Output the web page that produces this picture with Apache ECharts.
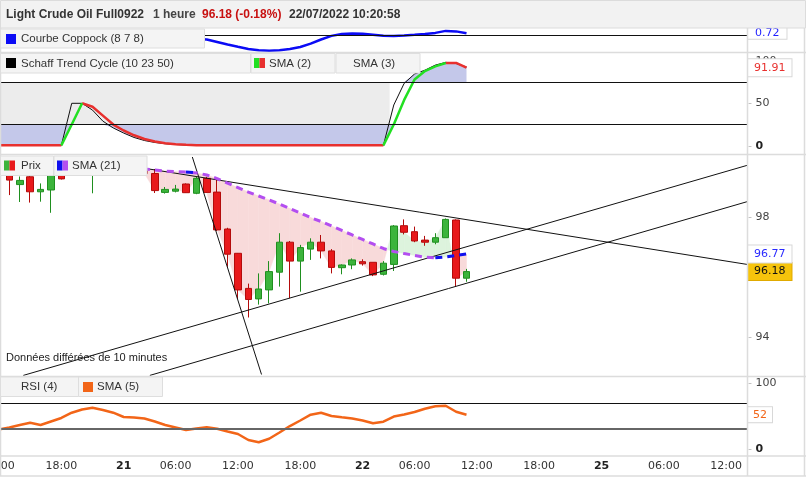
<!DOCTYPE html>
<html>
<head>
<meta charset="utf-8">
<title>Light Crude Oil Full0922</title>
<script src="https://cdn.jsdelivr.net/npm/echarts@6.0.0/dist/echarts.min.js"></script>
<style>
html,body{margin:0;padding:0;background:#fff;}
#chart{width:806px;height:477px;}
</style>
</head>
<body>
<div id="chart"></div>
<script>
// ---------------- data (hourly bars, index -1 .. 44) ----------------
const open  = [99.5, 99.55,99.08,99.34,98.84,98.9,99.6,99.5,99.7,99.55,99.8,99.6,99.7,99.5,99.55,99.45,98.82,98.86,99.1,98.79,99.29,98.83,97.6,96.79,95.62,95.27,95.57,96.16,97.16,96.53,96.93,97.16,96.87,96.31,96.4,96.51,96.49,96.09,96.42,97.71,97.51,97.23,97.16,97.31,97.9,95.96];
const close = [99.6, 99.23,99.22,98.84,98.92,99.45,99.27,99.6,99.85,99.8,99.6,99.7,99.5,99.55,99.45,98.88,98.92,98.93,98.81,99.29,98.82,97.57,96.76,95.57,95.25,95.6,96.18,97.16,96.53,96.98,97.16,96.87,96.32,96.4,96.57,96.44,96.07,96.46,97.7,97.49,97.2,97.16,97.31,97.92,95.96,96.18];
const low   = [99.42,98.73,98.5,98.48,98.51,98.14,99.25,99.4,99.45,98.79,99.45,99.45,99.4,99.4,99.4,98.8,98.78,98.82,98.8,98.76,98.8,97.53,96.34,95.27,94.65,95.08,95.12,95.68,95.29,95.51,96.57,96.62,96.12,96.09,96.26,96.38,96.03,96.05,96.2,97.42,97.16,97.04,97.09,97.31,95.68,95.84];
const high  = [99.8, 99.7,99.35,99.5,99.12,99.6,99.7,99.8,99.95,99.9,99.9,99.85,99.8,99.7,99.65,99.6,99.0,99.07,99.12,99.34,99.34,99.27,97.64,96.8,95.78,96.12,96.53,97.46,97.2,97.07,97.29,97.4,96.93,96.42,96.62,96.59,96.49,96.53,97.73,97.92,97.68,97.37,97.46,97.95,97.92,96.27];
const sma21 = [99.48,99.5,99.52,99.53,99.55,99.55,99.56,99.57,99.58,99.6,99.61,99.62,99.62,99.61,99.6,99.57,99.53,99.51,99.5,99.47,99.4,99.28,99.13,98.98,98.83,98.7,98.57,98.43,98.28,98.13,97.98,97.85,97.7,97.55,97.4,97.25,97.1,96.95,96.85,96.78,96.72,96.66,96.64,96.67,96.72,96.77];
const coppock = [0.4,0.5,0.55,0.5,0.4,0.3,0.2,0.15,0.05,-0.05,-0.1,-0.2,-0.3,-0.45,-0.6,-0.75,-0.9,-1.05,-1.2,-1.3,-1.48,-2.38,-3.29,-4.1,-4.9,-5.38,-5.56,-5.38,-4.95,-4.19,-3.0,-1.5,-0.2,0.5,0.69,0.58,0.22,-0.14,-0.22,-0.04,0.22,0.5,0.87,1.59,1.41,0.72];
const stc   = [0.5,0.5,0.5,0.5,0.5,0.5,0.5,50,50,42,29,21,15,9.8,6.2,3.9,2.4,1.5,0.9,0.5,0.5,0.5,0.5,0.5,0.5,0.5,0.5,0.5,0.5,0.5,0.5,0.5,0.5,0.5,0.5,0.5,0.5,0.5,48,73.5,84.5,89,95,98.2,96.8,92.7];
const stcSma2 = [0.5,0.5,0.5,0.5,0.5,0.5,0.5,25,50,46,35.5,25,18,12.4,8,5,3.1,1.9,1.2,0.7,0.5,0.5,0.5,0.5,0.5,0.5,0.5,0.5,0.5,0.5,0.5,0.5,0.5,0.5,0.5,0.5,0.5,0.5,25,54,78,88,93.5,97.4,97.5,91.9];
const rsiSma5 = [29.5,32.6,36.4,39.8,36.4,41.7,47,55,59.8,62.4,59.1,55,48.5,47.7,46.2,41.7,36.4,32.6,28.8,31.1,32.9,30.8,26.5,22.7,13.6,10.2,15.5,25,34.8,43.2,52,55,50,48,46.2,43.2,38.9,41.4,49.2,52.3,56,61,64.7,65.6,56.5,52];

// colour segments (bar index ranges)
const stcUpRanges   = [[5,7],[36,42]];
const stcDownRanges = [[-1,5],[7,36],[42,44]];
const smaUpRanges   = [[17,18],[41,44]];
const smaDownRanges = [[-1,17],[18,41]];
const fillStart = 8;   // first bar of the price / SMA cloud

// trend lines drawn on the price panel: [barIndex, price]
const trendLines = [
  [[8, 99.9],   [71, 96.42]],
  [[17.61, 100.0], [24.27, 92.75]],
  [[1.34, 92.72],  [71, 99.72]],
  [[13.52, 92.72], [71, 98.51]]
];

// last values
const lastCoppock = 0.72, lastStc = 91.91, lastSma21 = 96.77, lastPrice = 96.18, lastRsi = 52;

// axis ticks
const xTickIdx  = [-1,5,11,16,22,28,34,39,45,51,57,63,69];
const xTickText = ['12:00','18:00','21','06:00','12:00','18:00','22','06:00','12:00','18:00','25','06:00','12:00'];
const xTickBold = [0,0,1,0,0,0,1,0,0,0,1,0,0];
const priceTicks = [94,96,98];
const stcTicks = [0,50,100];
const rsiTicks = [0,50,100];
const stcLevels = [25,75];
const rsiLevels = [30,70];

// ---------------- build ----------------
const bars = open.map((_, i) => i - 1);
const F = "'DejaVu Sans', Verdana, sans-serif";
const FL = "'Liberation Sans', Arial, sans-serif";

const pairs = v => bars.map((b, i) => [b, v[i]]);
const seg = (v, ranges) => bars.map((b, i) => [b, ranges.some(r => b >= r[0] && b <= r[1]) ? v[i] : null]);

const candles = bars.map((b, i) => [b, open[i], close[i], low[i], high[i]]);
const stcLow  = bars.map((b, i) => [b, Math.min(stc[i], 25)]);
const stcHigh = bars.map((b, i) => [b, Math.max(stc[i], 75)]);
const cloud = [];
for (let i = 0; i < bars.length - 1; i++) {
  if (bars[i] < fillStart) continue;
  cloud.push([bars[i], close[i], sma21[i], bars[i + 1], close[i + 1], sma21[i + 1]]);
}

const gridBase = {left: -1, right: 59, containLabel: false, outerBoundsMode: 'none'};
const grids = [
  Object.assign({top: 29, height: 23}, gridBase),
  Object.assign({top: 53, height: 101}, gridBase),
  Object.assign({top: 156, height: 220}, gridBase),
  Object.assign({top: 377, height: 78}, gridBase)
];

function xAx(gi, labels) {
  return {
    type: 'value', gridIndex: gi, min: -1, max: 71,
    axisLine: {show: false}, axisTick: {show: false}, splitLine: {show: false},
    axisLabel: labels ? {
      show: true, customValues: xTickIdx, margin: 6, color: '#333',
      fontFamily: F, fontSize: 11, hideOverlap: false,
      formatter: v => { const i = xTickIdx.indexOf(v); if (i < 0) return ''; return xTickBold[i] ? '{b|' + xTickText[i] + '}' : xTickText[i]; },
      rich: {b: {fontWeight: 'bold', fontFamily: F, fontSize: 11, color: '#222'}}
    } : {show: false}
  };
}
function yAx(gi, min, max, ticks) {
  return {
    type: 'value', gridIndex: gi, min: min, max: max, position: 'right',
    axisLine: {show: false}, splitLine: {show: false}, axisTick: {show: false},
    axisLabel: {
      show: !!ticks, customValues: ticks || [], margin: 1, color: '#444',
      fontFamily: F, fontSize: 11,
      formatter: v => '{t|-} ' + (v === 0 ? '{b|0}' : String(v)),
      rich: {
        t: {color: '#bbb', fontFamily: F, fontSize: 11},
        b: {fontWeight: 'bold', fontFamily: F, fontSize: 11, color: '#222'}
      }
    }
  };
}

const HIDDEN = {color: 'rgba(0,0,0,0)', width: 1};
function valueLabel(val, text, color, bg, border, pad) {
  return {
    yAxis: val,
    lineStyle: HIDDEN,
    label: {
      show: true, position: 'end', distance: 1, formatter: text,
      color: color, fontFamily: F, fontSize: 11,
      backgroundColor: bg, borderColor: border, borderWidth: 1, padding: pad
    }
  };
}
function levelLine(val, color, width) {
  return {yAxis: val, lineStyle: {color: color, width: width, type: 'solid'}, label: {show: false}};
}

const common = {symbol: 'none', silent: true, animation: false};

const series = [
  // Coppock
  Object.assign({
    type: 'line', xAxisIndex: 0, yAxisIndex: 0, data: pairs(coppock),
    lineStyle: {color: '#0b0bf5', width: 2.5}, itemStyle: {color: '#0b0bf5'}, z: 3,
    markLine: {symbol: 'none', silent: true, animation: false, data: [
      levelLine(0, '#111', 1),
      valueLabel(lastCoppock, '0.72', '#1f1fff', '#fff', '#d8d8d8', [0, 7])
    ]}
  }, common),
  // Schaff: fills
  Object.assign({
    type: 'line', xAxisIndex: 1, yAxisIndex: 1, data: stcLow,
    lineStyle: {opacity: 0, width: 0}, areaStyle: {color: '#c4c8ea', opacity: 1, origin: 25}, z: 1
  }, common),
  Object.assign({
    type: 'line', xAxisIndex: 1, yAxisIndex: 1, data: stcHigh,
    lineStyle: {opacity: 0, width: 0}, areaStyle: {color: '#c4c8ea', opacity: 1, origin: 75}, z: 1
  }, common),
  // Schaff trend cycle (black)
  Object.assign({
    type: 'line', xAxisIndex: 1, yAxisIndex: 1, data: pairs(stc),
    lineStyle: {color: '#111', width: 1}, itemStyle: {color: '#111'}, z: 3,
    markArea: {silent: true, itemStyle: {color: '#ececec'}, data: [[{xAxis: -1, yAxis: 25}, {xAxis: 36.6, yAxis: 75}]]},
    markLine: {symbol: 'none', silent: true, animation: false, data: stcLevels.map(v => levelLine(v, '#111', 1))}
  }, common),
  // SMA(2) red / green
  Object.assign({
    type: 'line', xAxisIndex: 1, yAxisIndex: 1, data: seg(stcSma2, stcDownRanges),
    lineStyle: {color: '#e8302e', width: 2.5}, itemStyle: {color: '#e8302e'}, z: 4,
    markLine: {symbol: 'none', silent: true, animation: false, data: [
      valueLabel(lastStc, '91.91', '#e8302e', '#fff', '#d8d8d8', [3, 6])
    ]}
  }, common),
  Object.assign({
    type: 'line', xAxisIndex: 1, yAxisIndex: 1, data: seg(stcSma2, stcUpRanges),
    lineStyle: {color: '#22e022', width: 2.5}, itemStyle: {color: '#22e022'}, z: 4
  }, common),
  // price / SMA cloud
  {
    type: 'custom', xAxisIndex: 2, yAxisIndex: 2, data: cloud, silent: true, animation: false, z: 1,
    encode: {x: [0, 3], y: [1, 2, 4, 5]},
    renderItem: function (params, api) {
      const b0 = api.value(0), c0 = api.value(1), s0 = api.value(2);
      const b1 = api.value(3), c1 = api.value(4), s1 = api.value(5);
      const d0 = s0 - c0, d1 = s1 - c1;
      const polys = [];
      if (d0 * d1 >= 0) {
        polys.push({pts: [[b0, c0], [b1, c1], [b1, s1], [b0, s0]], pink: (d0 + d1) > 0});
      } else {
        const t = d0 / (d0 - d1);
        const bx = b0 + t * (b1 - b0), px = c0 + t * (c1 - c0);
        polys.push({pts: [[b0, c0], [bx, px], [b0, s0]], pink: d0 > 0});
        polys.push({pts: [[bx, px], [b1, c1], [b1, s1]], pink: d1 > 0});
      }
      return {type: 'group', children: polys.map(p => ({
        type: 'polygon', shape: {points: p.pts.map(q => api.coord(q))},
        style: {fill: p.pink ? '#f8dada' : '#ddf3dd', stroke: p.pink ? '#f8dada' : '#ddf3dd', lineWidth: 0.5}
      }))};
    }
  },
  // candles
  {
    type: 'candlestick', xAxisIndex: 2, yAxisIndex: 2, data: candles, barWidth: 7,
    silent: true, animation: false, z: 3,
    itemStyle: {color: '#3cb43c', color0: '#e8191b', borderColor: '#1f8f1f', borderColor0: '#b30b0b', borderWidth: 1},
    markLine: {symbol: 'none', silent: true, animation: false,
      lineStyle: {color: '#111', width: 1, type: 'solid'}, label: {show: false},
      data: trendLines.map(l => [{coord: l[0]}, {coord: l[1]}]).concat([
        valueLabel(lastPrice, '96.18', '#111', '#f6c40c', '#e0aa00', [3, 6])
      ])
    }
  },
  // SMA(21)
  Object.assign({
    type: 'line', xAxisIndex: 2, yAxisIndex: 2, data: seg(sma21, smaDownRanges),
    lineStyle: {color: '#b34ef0', width: 3, type: [7, 5]}, itemStyle: {color: '#b34ef0'}, z: 5,
    markLine: {symbol: 'none', silent: true, animation: false, data: [
      valueLabel(lastSma21, '96.77', '#2a2aff', '#fff', '#d8d8d8', [3, 6])
    ]}
  }, common),
  Object.assign({
    type: 'line', xAxisIndex: 2, yAxisIndex: 2, data: seg(sma21, smaUpRanges),
    lineStyle: {color: '#1010ee', width: 3, type: [7, 5]}, itemStyle: {color: '#1010ee'}, z: 5
  }, common),
  // RSI SMA(5)
  Object.assign({
    type: 'line', xAxisIndex: 3, yAxisIndex: 3, data: pairs(rsiSma5),
    lineStyle: {color: '#f26518', width: 2.5}, itemStyle: {color: '#f26518'}, z: 3,
    markLine: {symbol: 'none', silent: true, animation: false, data: [
      levelLine(rsiLevels[1], '#111', 1),
      levelLine(rsiLevels[0], '#666', 2),
      valueLabel(lastRsi, '52', '#f26518', '#fff', '#d8d8d8', [2, 5])
    ]}
  }, common)
];

// ---------------- chrome (frame, header, legends) ----------------
const Z = 100;
const hline = (y, x1, x2) => ({type: 'line', z: Z, silent: true, shape: {x1: x1, y1: y, x2: x2, y2: y}, style: {stroke: '#dcdcdc', lineWidth: 1.5}});
const vline = (x, y1, y2) => ({type: 'line', z: Z, silent: true, shape: {x1: x, y1: y1, x2: x, y2: y2}, style: {stroke: '#dcdcdc', lineWidth: 1.5}});
const box = (x, y, w, h) => ({type: 'rect', z: Z, silent: true, shape: {x: x, y: y, width: w, height: h}, style: {fill: '#f4f4f4', stroke: '#dedede', lineWidth: 1}});
const sw = (x, y, w, h, c) => ({type: 'rect', z: Z + 1, silent: true, shape: {x: x, y: y, width: w, height: h}, style: {fill: c}});
const txt = (x, y, t, opt) => ({type: 'text', z: Z + 1, silent: true, x: x, y: y,
  style: Object.assign({text: t, fill: '#333', fontFamily: FL, fontSize: 11.5, verticalAlign: 'middle', align: 'left'}, opt || {})});

const graphic = [
  {type: 'rect', z: Z, silent: true, shape: {x: 0.5, y: 0.5, width: 805, height: 27.5}, style: {fill: '#f2f2f2', stroke: '#dcdcdc', lineWidth: 1}},
  txt(6, 15, 'Light Crude Oil Full0922', {fontWeight: 'bold', fontSize: 12, fill: '#333'}),
  txt(153, 15, '1 heure', {fontWeight: 'bold', fontSize: 12, fill: '#444'}),
  txt(202, 15, '96.18 (-0.18%)', {fontWeight: 'bold', fontSize: 12, fill: '#c81010'}),
  txt(289, 15, '22/07/2022 10:20:58', {fontWeight: 'bold', fontSize: 12, fill: '#333'}),

  hline(52.5, 0, 806), hline(154.5, 0, 806), hline(376.5, 0, 806), hline(456, 0, 806), hline(476, 0, 806),
  vline(747.5, 28, 476), vline(804.5, 28, 476), vline(0.5, 28, 476),

  // Coppock legend
  box(0.5, 29, 204, 19), sw(6, 34, 10, 10, '#0b0bf5'), txt(21, 38.5, 'Courbe Coppock (8 7 8)'),
  // Schaff legend
  box(0.5, 53.5, 250, 19.5), sw(6, 58, 10, 10, '#000'), txt(21, 63.5, 'Schaff Trend Cycle (10 23 50)'),
  box(251, 53.5, 84, 19.5), sw(254, 58, 5.5, 10, '#22e022'), sw(259.5, 58, 5.5, 10, '#e8302e'), txt(269, 63.5, 'SMA (2)'),
  box(336, 53.5, 84, 19.5), txt(353, 63.5, 'SMA (3)'),
  // Price legend
  box(0.5, 156, 53, 19.5), sw(4, 160.5, 5.5, 10, '#3cb43c'), sw(9.5, 160.5, 5.5, 10, '#e8191b'), txt(21, 166, 'Prix'),
  box(54, 156, 93, 19.5), sw(57, 160.5, 5.5, 10, '#1010ee'), sw(62.5, 160.5, 5.5, 10, '#b34ef0'), txt(72, 166, 'SMA (21)'),
  txt(6, 358, 'Données différées de 10 minutes', {fontSize: 11, fill: '#222'}),
  // RSI legend
  box(0.5, 377, 78, 19.5), txt(21, 387, 'RSI (4)'),
  box(78.5, 377, 84, 19.5), sw(83, 382, 10, 10, '#f26518'), txt(97, 387, 'SMA (5)')
];

const option = {
  animation: false,
  backgroundColor: '#fff',
  grid: grids,
  xAxis: [xAx(0, false), xAx(1, false), xAx(2, false), xAx(3, true)],
  yAxis: [
    yAx(0, -6.0, 2.27, null),
    yAx(1, -9.65, 109.2, stcTicks),
    yAx(2, 92.7, 100.033, priceTicks),
    yAx(3, -9.09, 109.1, rsiTicks)
  ],
  series: series,
  graphic: graphic
};

const chart = echarts.init(document.getElementById('chart'), null, {renderer: 'canvas'});
chart.setOption(option);
</script>
</body>
</html>
